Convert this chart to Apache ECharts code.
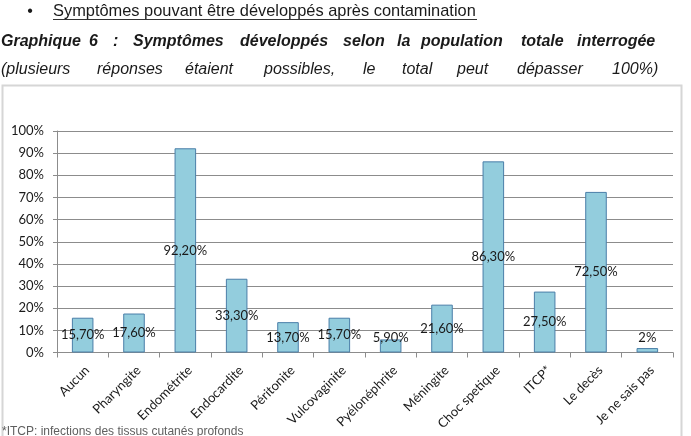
<!DOCTYPE html>
<html><head><meta charset="utf-8">
<script src="https://cdn.jsdelivr.net/npm/echarts@6/dist/echarts.min.js"></script>
<style>html,body{margin:0;padding:0;background:#fff}#c{width:691px;height:436px}</style>
</head><body><div id="c"></div>
<script>
// ---- data ----
const categories = ['Aucun','Pharyngite','Endométrite','Endocardite','Péritonite','Vulcovaginite','Pyélonéphrite','Méningite','Choc spetique','ITCP*','Le decès','Je ne sais pas'];
const values = [15.7, 17.6, 92.2, 33.3, 13.7, 15.7, 5.9, 21.6, 86.3, 27.5, 72.5, 2];
const yMin = 0, yMax = 100, yStep = 10;
const headingText = 'Symptômes pouvant être développés après contamination';
const titleWords = ['Graphique','6',':','Symptômes','développés','selon','la','population','totale','interrogée'];
const subtitleWords = ['(plusieurs','réponses','étaient','possibles,','le','total','peut','dépasser','100%)'];
const footnoteText = '*ITCP: infections des tissus cutanés profonds';

// ---- layout (justified text word positions) ----
const titleX = [1, 89, 113, 133, 240, 343, 397, 421, 521, 577];
const subtitleX = [1, 97, 185, 264, 363, 402, 457, 517, 612];

const fmt = v => (Number.isInteger(v) ? String(v) : v.toFixed(2).replace('.', ',')) + '%';
const dark = '#1a1a1a';
const graphics = [
  {type:'rect', shape:{x:2.5, y:85.5, width:679, height:400}, style:{fill:'none', stroke:'#d6d6d6', lineWidth:2}, z:-1},
  {type:'text', x:30, y:11.8, style:{text:'•', font:'16px "Liberation Sans"', fill:dark, align:'center', verticalAlign:'middle'}},
  {type:'text', x:53, y:11.8, style:{text:headingText, font:'16.4px "Liberation Sans"', fill:dark, align:'left', verticalAlign:'middle'}},
  {type:'line', shape:{x1:53, y1:19.5, x2:477, y2:19.5}, style:{stroke:'#333', lineWidth:1}},
  {type:'text', x:2, y:432, style:{text:footnoteText, font:'12px "Liberation Sans"', fill:'#5f5f5f', align:'left', verticalAlign:'middle'}}
];
titleWords.forEach((w,i)=>graphics.push({type:'text', x:titleX[i], y:42, style:{text:w, font:'italic bold 16px "Liberation Sans"', fill:dark, align:'left', verticalAlign:'middle'}}));
subtitleWords.forEach((w,i)=>graphics.push({type:'text', x:subtitleX[i], y:69.5, style:{text:w, font:'italic 16px "Liberation Sans"', fill:dark, align:'left', verticalAlign:'middle'}}));

const chart = echarts.init(document.getElementById('c'), null, {renderer:'canvas'});
const gray = '#8c8c8c';
chart.setOption({
  animation:false,
  backgroundColor:'#fff',
  graphic:graphics,
  grid:{left:57, right:18, top:131, bottom:83.5, containLabel:false},
  xAxis:{
    type:'category', data:categories,
    axisLine:{lineStyle:{color:gray, width:1}},
    axisTick:{show:true, length:5, lineStyle:{color:gray}},
    axisLabel:{interval:0, rotate:45, fontFamily:'Lato', fontSize:13, color:dark, margin:11, verticalAlign:'top'}
  },
  yAxis:{
    type:'value', min:yMin, max:yMax, interval:yStep,
    axisLine:{show:true, lineStyle:{color:gray}},
    axisTick:{show:true, length:4, lineStyle:{color:gray}},
    axisLabel:{formatter:'{value}%', fontFamily:'Lato', fontSize:13, color:dark, margin:13},
    splitLine:{lineStyle:{color:gray, width:1}}
  },
  series:[{
    type:'bar', barWidth:'42%',
    data: values.map(v => v < 12 ? {value:v, label:{position:'insideBottom', distance:8}} : v),
    itemStyle:{color:'#93cddd', borderColor:'#4a7ea8', borderWidth:1},
    label:{show:true, position:'inside', formatter:p=>fmt(p.value), fontFamily:'Lato', fontSize:13, color:dark}
  }]
});
</script></body></html>
